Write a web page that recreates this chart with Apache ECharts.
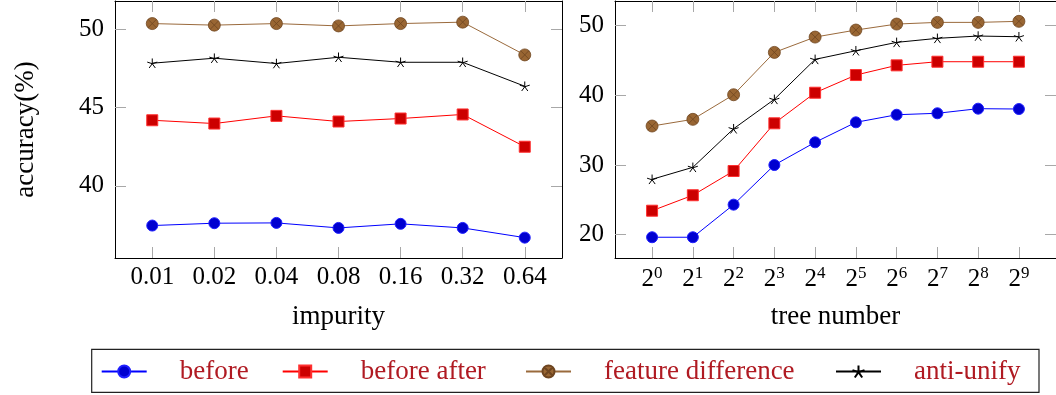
<!DOCTYPE html>
<html>
<head>
<meta charset="utf-8">
<script src="https://cdn.jsdelivr.net/npm/echarts@6/dist/echarts.min.js"></script>
<style>
html,body{margin:0;padding:0;background:#fff;}
#chart{width:1056px;height:395px;}
</style>
</head>
<body>
<div id="chart"></div>
<script>
// ---- data ----
const impurityLabels = ['0.01', '0.02', '0.04', '0.08', '0.16', '0.32', '0.64'];
const treeExponents = ['0', '1', '2', '3', '4', '5', '6', '7', '8', '9'];
const seriesNames = ['before', 'before after', 'feature difference', 'anti-unify'];

const impBefore = [37.47, 37.62, 37.64, 37.32, 37.58, 37.32, 36.70];
const impBeforeAfter = [44.19, 43.98, 44.47, 44.11, 44.30, 44.56, 42.50];
const impFeatureDiff = [50.36, 50.26, 50.36, 50.21, 50.36, 50.45, 48.36];
const impAntiUnify = [47.83, 48.15, 47.81, 48.21, 47.89, 47.89, 46.36];

const treeBefore = [19.63, 19.63, 24.31, 30.00, 33.26, 36.13, 37.22, 37.43, 38.09, 38.04];
const treeBeforeAfter = [23.44, 25.66, 29.14, 35.99, 40.38, 42.92, 44.31, 44.83, 44.83, 44.83];
const treeFeatureDiff = [35.60, 36.56, 40.09, 46.17, 48.37, 49.38, 50.24, 50.48, 50.48, 50.63];
const treeAntiUnify = [27.95, 29.67, 35.21, 39.43, 45.17, 46.41, 47.61, 48.19, 48.52, 48.42];

const leftYTicks = [40, 45, 50];
const rightYTicks = [20, 30, 40, 50];

// ---- styling ----
const FONT = '"Liberation Serif", "DejaVu Serif", serif';
const TICK_COLOR = '#a8a8a8';
const starPath = 'path://M0,-5L0,0M0,0L4.755,-1.545M0,0L2.939,4.045M0,0L-2.939,4.045M0,0L-4.755,-1.545';
const otimesPath = 'path://M10,0A10,10 0 1,1 -10,0A10,10 0 1,1 10,0Z M-7.07,-7.07L7.07,7.07M-7.07,7.07L7.07,-7.07';

const styles = [
  {line: '#0000ff', fill: '#0000d0', border: '#2020ff', symbol: 'circle', size: 11, bw: 1},
  {line: '#ff0000', fill: '#cc0000', border: '#ff3030', symbol: 'rect', size: 11, bw: 1},
  {line: '#9a6a3c', fill: '#996633', border: '#6e4520', symbol: otimesPath, size: 12, bw: 0.8},
  {line: '#000000', fill: '#000000', border: '#000000', symbol: starPath, size: 10, bw: 1}
];

function idx(n) { return Array.from({length: n}, (_, i) => i); }

function makeX(gridIndex, n, min, max, formatter, rich, name) {
  const ticks = idx(n);
  return [
    {
      type: 'value', gridIndex, min, max, position: 'bottom',
      name, nameLocation: 'middle', nameGap: 45,
      nameTextStyle: {fontFamily: FONT, fontSize: 27, color: '#000'},
      axisLine: {show: true, onZero: false, lineStyle: {color: '#000', width: 1}},
      axisTick: {show: true, inside: true, length: 11, customValues: ticks, lineStyle: {color: TICK_COLOR}},
      axisLabel: {show: true, customValues: ticks, formatter, rich, margin: 7,
        fontFamily: FONT, fontSize: 25, color: '#000'},
      splitLine: {show: false}
    },
    {
      type: 'value', gridIndex, min, max, position: 'top',
      axisLine: {show: true, onZero: false, lineStyle: {color: '#000', width: 1}},
      axisTick: {show: true, inside: true, length: 11, customValues: ticks, lineStyle: {color: TICK_COLOR}},
      axisLabel: {show: false},
      splitLine: {show: false}
    }
  ];
}

function makeY(gridIndex, min, max, ticks, name) {
  return [
    {
      type: 'value', gridIndex, min, max, position: 'left',
      name, nameLocation: 'middle', nameGap: 76, nameRotate: 90,
      nameTextStyle: {fontFamily: FONT, fontSize: 27, color: '#000'},
      axisLine: {show: true, onZero: false, lineStyle: {color: '#000', width: 1}},
      axisTick: {show: true, inside: true, length: 11, customValues: ticks, lineStyle: {color: TICK_COLOR}},
      axisLabel: {show: true, customValues: ticks, margin: 11,
        fontFamily: FONT, fontSize: 25, color: '#000'},
      splitLine: {show: false}
    },
    {
      type: 'value', gridIndex, min, max, position: 'right',
      axisLine: {show: true, onZero: false, lineStyle: {color: '#000', width: 1}},
      axisTick: {show: true, inside: true, length: 11, customValues: ticks, lineStyle: {color: TICK_COLOR}},
      axisLabel: {show: false},
      splitLine: {show: false}
    }
  ];
}

function makeSeries(k, values, xi, yi) {
  const s = styles[k];
  return {
    type: 'line', name: seriesNames[k], xAxisIndex: xi, yAxisIndex: yi,
    data: values.map((v, i) => [i, v]),
    symbol: s.symbol, symbolSize: s.size, symbolKeepAspect: true,
    showSymbol: true, showAllSymbol: true,
    lineStyle: {color: s.line, width: 1},
    itemStyle: {color: s.fill, borderColor: s.border, borderWidth: s.bw},
    emphasis: {disabled: true},
    animation: false, z: 3 + k
  };
}

const xAxes = [].concat(
  makeX(0, impurityLabels.length, -0.6, 6.6, v => impurityLabels[v], undefined, 'impurity'),
  makeX(1, treeExponents.length, -0.91, 9.91, v => '{b|2}{s|' + treeExponents[v] + '}', {
    b: {fontFamily: FONT, fontSize: 25, color: '#000', lineHeight: 28},
    s: {fontFamily: FONT, fontSize: 17, color: '#000', verticalAlign: 'top', lineHeight: 6}
  }, 'tree number')
);
const yAxes = [].concat(
  makeY(0, 35.4, 51.8, leftYTicks, 'accuracy(%)'),
  makeY(1, 16.65, 53.55, rightYTicks, '')
);

const impData = [impBefore, impBeforeAfter, impFeatureDiff, impAntiUnify];
const treeData = [treeBefore, treeBeforeAfter, treeFeatureDiff, treeAntiUnify];
const series = [];
impData.forEach((d, k) => series.push(makeSeries(k, d, 0, 0)));
treeData.forEach((d, k) => series.push(makeSeries(k, d, 2, 2)));

const legendLefts = [100.7, 281.7, 525, 835];
const legends = seriesNames.map((n, k) => ({
  data: [n], left: legendLefts[k], top: 358, padding: 0,
  itemWidth: 45, itemHeight: 15, itemGap: 0,
  selectedMode: false,
  textStyle: {fontFamily: FONT, fontSize: 27, color: '#b01a22', padding: [0, 0, 0, 28]}
}));

const chart = echarts.init(document.getElementById('chart'), null, {renderer: 'canvas'});
chart.setOption({
  animation: false,
  backgroundColor: '#fff',
  grid: [
    {left: 115, top: 1, width: 447, height: 257, containLabel: false},
    {left: 615, top: 1, width: 448, height: 257, containLabel: false}
  ],
  xAxis: xAxes,
  yAxis: yAxes,
  legend: legends,
  graphic: [{
    type: 'rect', silent: true,
    shape: {x: 91.7, y: 349.3, width: 947.3, height: 43},
    style: {fill: 'none', stroke: '#222', lineWidth: 1.2}
  }],
  series
});
</script>
</body>
</html>
